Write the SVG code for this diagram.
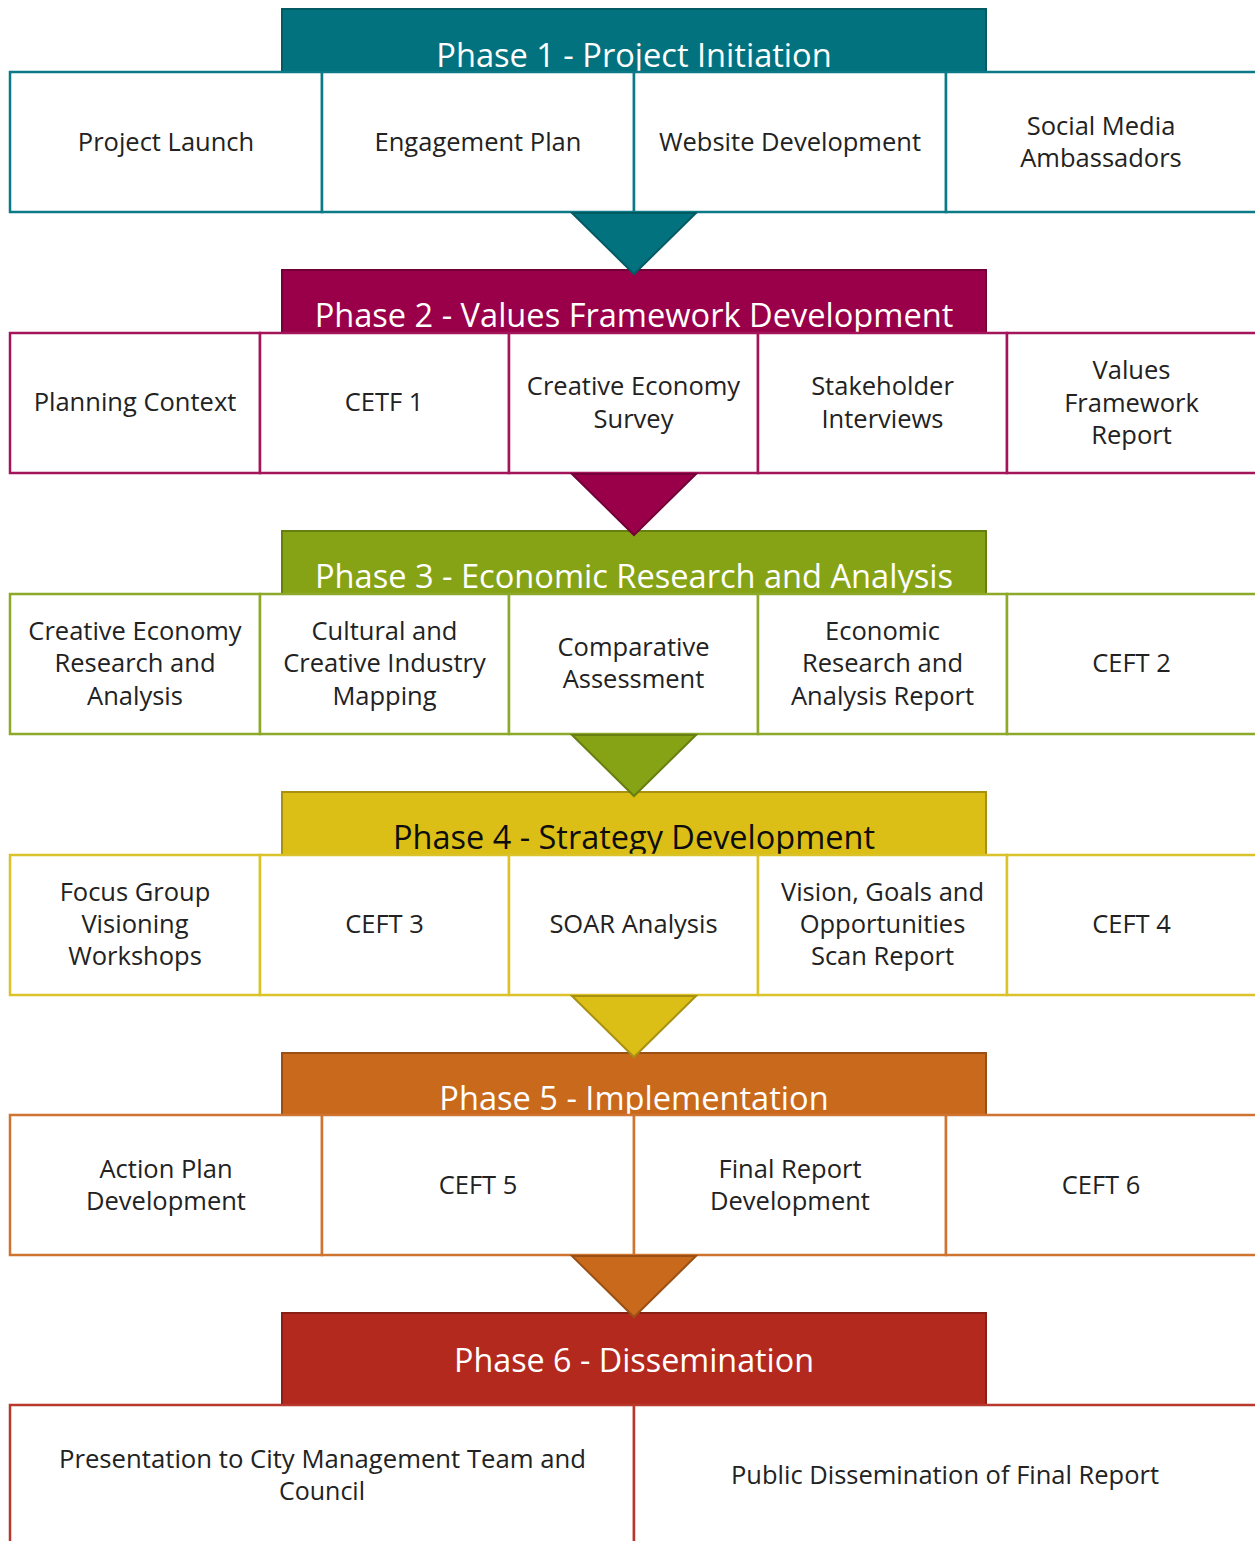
<svg xmlns="http://www.w3.org/2000/svg" width="1255" height="1541" viewBox="0 0 1255 1541">
<style>
  .hd { stroke-width: 2; }
  .box { fill: #ffffff; stroke-width: 2.5; }
  .ht { font-family: "Open Sans", "DejaVu Sans", sans-serif; font-size: 32.6px; fill: #ffffff; text-anchor: middle; }
  .bt { font-family: "Open Sans", "DejaVu Sans", sans-serif; font-size: 25.5px; fill: #222222; text-anchor: middle; }
  .p1 .hd, .a1 { fill: #03727F; stroke: #025A63; }
  .p1 .box { stroke: #0B7A86; }
  .p2 .hd, .a2 { fill: #9A0049; stroke: #730037; }
  .p2 .box { stroke: #A3145A; }
  .p3 .hd, .a3 { fill: #86A316; stroke: #677E10; }
  .p3 .box { stroke: #8DA92A; }
  .p4 .hd, .a4 { fill: #DBBF16; stroke: #A89110; }
  .p4 .box { stroke: #DCC22A; }
  .p5 .hd, .a5 { fill: #C9691C; stroke: #9A5015; }
  .p5 .box { stroke: #CE7430; }
  .p6 .hd { fill: #B3291E; stroke: #8A1F16; }
  .p6 .box { stroke: #B8382E; }
  .arr { stroke-width: 2; }
</style>

<g id="phase1" class="p1">
  <g id="phase1-header"><rect class="hd" x="282" y="9" width="704" height="64"/><text class="ht" x="634" y="67">Phase 1 - Project Initiation</text></g>
  <g id="project-launch"><rect class="box" x="10" y="72" width="312" height="140"/><text class="bt" x="166" y="151">Project Launch</text></g>
  <g id="engagement-plan"><rect class="box" x="322" y="72" width="312" height="140"/><text class="bt" x="478" y="151">Engagement Plan</text></g>
  <g id="website-development"><rect class="box" x="634" y="72" width="312" height="140"/><text class="bt" x="790" y="151">Website Development</text></g>
  <g id="social-media-ambassadors"><rect class="box" x="946" y="72" width="312" height="140"/><text class="bt" x="1101" y="135">Social Media</text><text class="bt" x="1101" y="167">Ambassadors</text></g>
</g>

<g id="phase2" class="p2">
  <g id="phase2-header"><rect class="hd" x="282" y="270" width="704" height="64"/><text class="ht" x="634" y="327">Phase 2 - Values Framework Development</text></g>
  <g id="planning-context"><rect class="box" x="10" y="333" width="250" height="140"/><text class="bt" x="135" y="411">Planning Context</text></g>
  <g id="cetf-1"><rect class="box" x="260" y="333" width="249" height="140"/><text class="bt" x="384" y="411">CETF 1</text></g>
  <g id="creative-economy-survey"><rect class="box" x="509" y="333" width="249" height="140"/><text class="bt" x="633.5" y="395">Creative Economy</text><text class="bt" x="633.5" y="428">Survey</text></g>
  <g id="stakeholder-interviews"><rect class="box" x="758" y="333" width="249" height="140"/><text class="bt" x="882.5" y="395">Stakeholder</text><text class="bt" x="882.5" y="428">Interviews</text></g>
  <g id="values-framework-report"><rect class="box" x="1007" y="333" width="252" height="140"/><text class="bt" x="1131.5" y="379">Values</text><text class="bt" x="1131.5" y="412">Framework</text><text class="bt" x="1131.5" y="444">Report</text></g>
</g>

<g id="phase3" class="p3">
  <g id="phase3-header"><rect class="hd" x="282" y="531" width="704" height="64"/><text class="ht" x="634" y="588">Phase 3 - Economic Research and Analysis</text></g>
  <g id="creative-economy-research"><rect class="box" x="10" y="594" width="250" height="140"/><text class="bt" x="135" y="640">Creative Economy</text><text class="bt" x="135" y="672">Research and</text><text class="bt" x="135" y="705">Analysis</text></g>
  <g id="cultural-creative-mapping"><rect class="box" x="260" y="594" width="249" height="140"/><text class="bt" x="384.5" y="640">Cultural and</text><text class="bt" x="384.5" y="672">Creative Industry</text><text class="bt" x="384.5" y="705">Mapping</text></g>
  <g id="comparative-assessment"><rect class="box" x="509" y="594" width="249" height="140"/><text class="bt" x="633.5" y="656">Comparative</text><text class="bt" x="633.5" y="688">Assessment</text></g>
  <g id="economic-research-report"><rect class="box" x="758" y="594" width="249" height="140"/><text class="bt" x="882.5" y="640">Economic</text><text class="bt" x="882.5" y="672">Research and</text><text class="bt" x="882.5" y="705">Analysis Report</text></g>
  <g id="ceft-2"><rect class="box" x="1007" y="594" width="252" height="140"/><text class="bt" x="1131.5" y="672">CEFT 2</text></g>
</g>

<g id="phase4" class="p4">
  <g id="phase4-header"><rect class="hd" x="282" y="792" width="704" height="64"/><text class="ht" x="634" y="849" style="fill:#0d0d0d" textLength="482" lengthAdjust="spacingAndGlyphs">Phase 4 - Strategy Development</text></g>
  <g id="focus-group-workshops"><rect class="box" x="10" y="855" width="250" height="140"/><text class="bt" x="135" y="901">Focus Group</text><text class="bt" x="135" y="933">Visioning</text><text class="bt" x="135" y="965">Workshops</text></g>
  <g id="ceft-3"><rect class="box" x="260" y="855" width="249" height="140"/><text class="bt" x="384.5" y="933">CEFT 3</text></g>
  <g id="soar-analysis"><rect class="box" x="509" y="855" width="249" height="140"/><text class="bt" x="633.5" y="933">SOAR Analysis</text></g>
  <g id="vision-goals-report"><rect class="box" x="758" y="855" width="249" height="140"/><text class="bt" x="882.5" y="901">Vision, Goals and</text><text class="bt" x="882.5" y="933">Opportunities</text><text class="bt" x="882.5" y="965">Scan Report</text></g>
  <g id="ceft-4"><rect class="box" x="1007" y="855" width="252" height="140"/><text class="bt" x="1131.5" y="933">CEFT 4</text></g>
</g>

<g id="phase5" class="p5">
  <g id="phase5-header"><rect class="hd" x="282" y="1053" width="704" height="63"/><text class="ht" x="634" y="1110">Phase 5 - Implementation</text></g>
  <g id="action-plan-development"><rect class="box" x="10" y="1115" width="312" height="140"/><text class="bt" x="166" y="1178">Action Plan</text><text class="bt" x="166" y="1210">Development</text></g>
  <g id="ceft-5"><rect class="box" x="322" y="1115" width="312" height="140"/><text class="bt" x="478" y="1194">CEFT 5</text></g>
  <g id="final-report-development"><rect class="box" x="634" y="1115" width="312" height="140"/><text class="bt" x="790" y="1178">Final Report</text><text class="bt" x="790" y="1210">Development</text></g>
  <g id="ceft-6"><rect class="box" x="946" y="1115" width="312" height="140"/><text class="bt" x="1101" y="1194">CEFT 6</text></g>
</g>

<g id="phase6" class="p6">
  <g id="phase6-header"><rect class="hd" x="282" y="1313" width="704" height="93"/><text class="ht" x="634" y="1372" textLength="360" lengthAdjust="spacingAndGlyphs">Phase 6 - Dissemination</text></g>
  <g id="presentation-council"><rect class="box" x="10" y="1405" width="624" height="150"/><text class="bt" x="322.5" y="1468" textLength="527" lengthAdjust="spacingAndGlyphs">Presentation to City Management Team and</text><text class="bt" x="322" y="1500" textLength="86" lengthAdjust="spacingAndGlyphs">Council</text></g>
  <g id="public-dissemination"><rect class="box" x="634" y="1405" width="624" height="150"/><text class="bt" x="945" y="1484" textLength="428" lengthAdjust="spacingAndGlyphs">Public Dissemination of Final Report</text></g>
</g>

<g id="connectors">
  <polygon class="arr a1" points="572,213 696,213 634,274"/>
  <polygon class="arr a2" points="572,474 696,474 634,535"/>
  <polygon class="arr a3" points="572,735 696,735 634,796"/>
  <polygon class="arr a4" points="572,996 696,996 634,1057"/>
  <polygon class="arr a5" points="572,1256 696,1256 634,1317"/>
</g>
</svg>
